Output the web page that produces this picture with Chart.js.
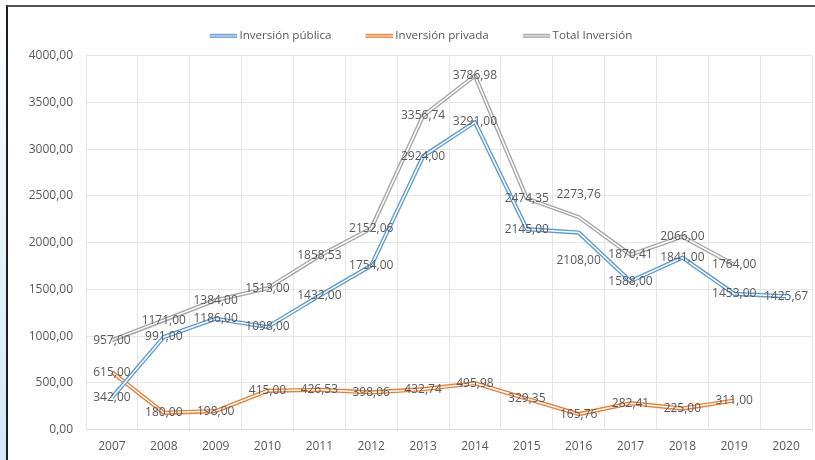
<!DOCTYPE html>
<html>
<head>
<meta charset="utf-8">
<script src="https://cdn.jsdelivr.net/npm/chart.js@4"></script>
<style>
  html, body { margin: 0; padding: 0; background: #fff; }
  #wrap { position: relative; width: 815px; height: 460px; overflow: hidden; }
  #strip { position: absolute; left: 0; top: 0; width: 6px; height: 460px;
           background: linear-gradient(to bottom, #ffffff 0%, #eef6fc 35%, #d3e8f8 100%); }
  #frame { position: absolute; left: 6px; top: 5px; width: 815px; height: 460px;
           border-left: 2px solid #1e1e1e; border-top: 2px solid #555; }
  canvas { position: absolute; left: 0; top: 0; }
</style>
</head>
<body>
<div id="wrap">
  <div id="strip"></div>
  <div id="frame"></div>
  <canvas id="chart" width="815" height="460"></canvas>
</div>
<script>
// --- data ---
const years = ['2007', '2008', '2009', '2010', '2011', '2012', '2013', '2014', '2015', '2016', '2017', '2018', '2019', '2020'];
const publica = [342, 991, 1186, 1098, 1432, 1754, 2924, 3291, 2145, 2108, 1588, 1841, 1453, 1425.67];
const privada = [615, 180, 198, 415, 426.53, 398.06, 432.74, 495.98, 329.35, 165.76, 282.41, 225, 311, null];
const total = [957, 1171, 1384, 1513, 1858.53, 2152.06, 3356.74, 3786.98, 2474.35, 2273.76, 1870.41, 2066, 1764, null];
const seriesNames = ['Inversión pública', 'Inversión privada', 'Total Inversión'];

// colours
const blue = '#5b9bd5';
const orange = '#ed7d31';
const grey = '#a5a5a5';
const tickColor = '#595959';
const labelColor = '#595959';
const gridColor = '#e6e6e6';
const fontFamily = '"Open Sans", "Noto Sans", sans-serif';

const fmt = v => v.toFixed(2).replace('.', ',');

// double-line legend icon (Excel "double" compound line), icon sits at the right end
function legendIcon(color) {
    const c = document.createElement('canvas');
    c.width = 60; c.height = 6;
    const g = c.getContext('2d');
    g.fillStyle = color;
    g.fillRect(33, 1, 27, 4);
    g.fillStyle = '#ffffff';
    g.fillRect(33, 2.5, 27, 1);
    return c;
}

// white centre stroke over each series -> double line look
const doubleLine = {
    id: 'doubleLine',
    afterDatasetDraw(chart, args) {
        const pts = args.meta.data;
        const data = chart.data.datasets[args.index].data;
        const ctx = chart.ctx;
        ctx.save();
        ctx.strokeStyle = '#ffffff';
        ctx.lineWidth = 1.5;
        ctx.lineJoin = 'round';
        ctx.beginPath();
        let pen = false;
        pts.forEach((p, i) => {
            if (data[i] == null) { pen = false; return; }
            if (!pen) { ctx.moveTo(p.x, p.y); pen = true; } else { ctx.lineTo(p.x, p.y); }
        });
        ctx.stroke();
        ctx.restore();
    }
};

// value labels centred on points (a couple nudged like the original)
const valueLabels = {
    id: 'valueLabels',
    afterDatasetsDraw(chart, args, opts) {
        const ctx = chart.ctx;
        ctx.save();
        ctx.font = '12px ' + fontFamily;
        ctx.fillStyle = labelColor;
        ctx.textAlign = 'center';
        ctx.textBaseline = 'middle';
        chart.data.datasets.forEach((ds, di) => {
            const meta = chart.getDatasetMeta(di);
            const shift = (opts.shift && opts.shift[di]) || {};
            meta.data.forEach((pt, i) => {
                const v = ds.data[i];
                if (v == null) return;
                ctx.fillText(fmt(v), pt.x, pt.y + (shift[i] || 0));
            });
        });
        ctx.restore();
    }
};

const colors = [blue, orange, grey];

new Chart(document.getElementById('chart').getContext('2d'), {
    type: 'line',
    data: {
        labels: years,
        datasets: [
            { label: seriesNames[0], data: publica, borderColor: blue, backgroundColor: blue },
            { label: seriesNames[1], data: privada, borderColor: orange, backgroundColor: orange },
            { label: seriesNames[2], data: total, borderColor: grey, backgroundColor: grey }
        ]
    },
    options: {
        responsive: false,
        animation: false,
        devicePixelRatio: 1,
        elements: {
            line: { borderWidth: 4.2, tension: 0, borderJoinStyle: 'round' },
            point: { radius: 0, hoverRadius: 0 }
        },
        layout: { padding: { top: 26, left: 0, right: 3, bottom: -4 } },
        scales: {
            x: {
                offset: true,
                grid: { offset: true, color: gridColor, drawTicks: false },
                border: { color: '#d9d9d9' },
                ticks: { color: tickColor, padding: 10, font: { family: fontFamily, size: 12 }, maxRotation: 0 }
            },
            y: {
                min: 0, max: 4000,
                afterFit: s => { s.width = 86; },
                grid: { color: gridColor, drawTicks: false },
                border: { display: false },
                ticks: { stepSize: 500, color: tickColor, padding: 13, font: { family: fontFamily, size: 12 }, callback: v => fmt(v) }
            }
        },
        plugins: {
            tooltip: { enabled: false },
            // empty spacer between legend and plot
            title: { display: true, text: ' ', weight: 500, font: { size: 1 }, padding: { top: 0, bottom: 3 } },
            legend: {
                position: 'top',
                labels: {
                    color: tickColor,
                    font: { family: fontFamily, size: 11.6 },
                    usePointStyle: true,
                    pointStyleWidth: 54,
                    padding: 4,
                    generateLabels: chart => Chart.defaults.plugins.legend.labels.generateLabels(chart)
                        .map(item => Object.assign(item, { pointStyle: legendIcon(colors[item.datasetIndex]) }))
                }
            },
            valueLabels: { shift: { 0: { 9: 28 }, 2: { 9: -23 } } }
        }
    },
    plugins: [doubleLine, valueLabels]
});
</script>
</body>
</html>
